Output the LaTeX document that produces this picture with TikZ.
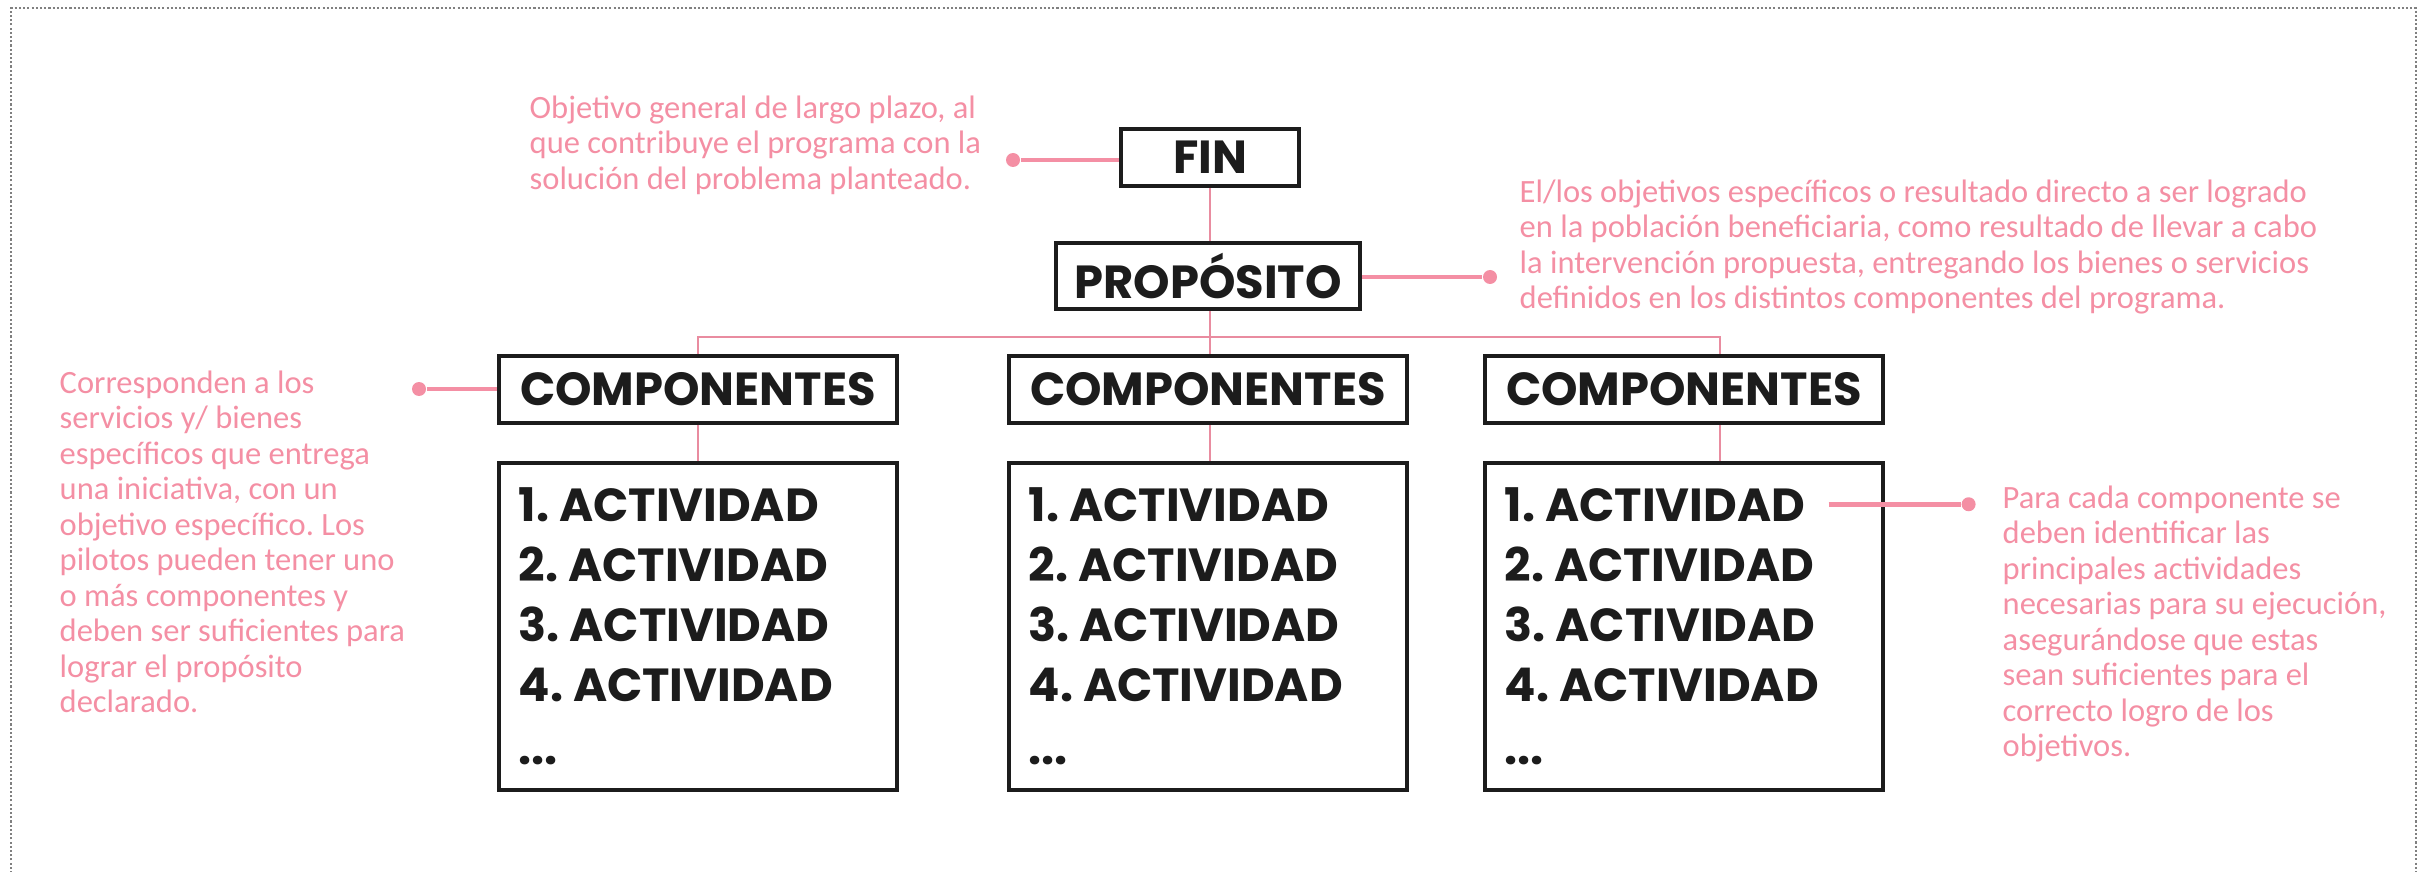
\documentclass[tikz,border=0pt]{standalone}
\usepackage{fontspec}
\setmainfont{Carlito}
\newfontfamily\headfont{Poppins}
\frenchspacing
\definecolor{rosa}{HTML}{F48FA4}
\definecolor{rosaline}{HTML}{E98CA0}
\definecolor{ink}{HTML}{1C1C1C}
\tikzset{
  box/.style={draw=ink, line width=1pt, fill=white, inner sep=0pt, text=ink,
    font=\headfont\bfseries\fontsize{13.2}{16}\selectfont},
  branch/.style={draw=rosaline, line width=0.8pt},
  note/.style={text=rosa, font=\fontsize{9.25}{10.1}\selectfont, align=left, inner sep=0pt, anchor=north west},
  lead/.style={draw=rosa, line width=1.4pt},
  leaddot/.style={circle, fill=rosa, inner sep=0pt, minimum size=0.14cm},
  act/.style={anchor=base west, inner sep=0pt, text=ink, font=\headfont\bfseries\fontsize{13.2}{16}\selectfont}
}
\begin{document}
\begin{tikzpicture}
\useasboundingbox (0,0) rectangle (24.3,-8.72);

% dashed frame
\draw[gray, line width=0.3pt, dash pattern=on 0.6pt off 0.6pt] (0.11,-8.9) |- (24.16,-0.08) -- (24.16,-8.9);

% boxes
\node[box, minimum width=1.78cm, minimum height=0.57cm] (fin) at (12.10,-1.575) {FIN};
\node[box, minimum width=3.04cm, minimum height=0.66cm] (prop) at (12.08,-2.76) {PROPÓSITO};
\foreach \n/\x in {1/6.98, 2/12.08, 3/16.84} {
  \node[box, minimum width=3.98cm, minimum height=0.67cm] (comp\n) at (\x,-3.895) {COMPONENTES};
  \node[box, minimum width=3.98cm, minimum height=3.27cm] (act\n) at (\x,-6.265) {};
  \foreach \i in {1,...,4}
    \node[act] (act\n-\i) at ({\x-1.80},{-5.21-0.6*(\i-1)}) {\i. ACTIVIDAD};
  \node[act] (act\n-5) at ({\x-1.80},-7.64) {...};
}

% tree lines
\coordinate (busL) at (6.98,-3.37);
\coordinate (busR) at (17.20,-3.37);
\draw[branch] (fin.south) -- (fin.south |- prop.north);
\draw[branch] (fin.south |- prop.south) -- (fin.south |- comp2.north);
\draw[branch] (busL |- comp1.north) -- (busL) -- (busR) -- (busR |- comp3.north);
\draw[branch] (comp1.south) -- (act1.north);
\draw[branch] (fin.south |- comp2.south) -- (fin.south |- act2.north);
\draw[branch] (busR |- comp3.south) -- (busR |- act3.north);

% notes
\node[note] (n1) at (5.29,-0.95) {Objetivo general de largo plazo, al\\que contribuye el programa con la\\solución del problema planteado.};
\node[note] (n2) at (15.19,-1.79) {El/los objetivos específicos o resultado directo a ser logrado\\en la población beneficiaria, como resultado de llevar a cabo\\la intervención propuesta, entregando los bienes o servicios\\definidos en los distintos componentes del programa.};
\node[note] (n3) at (0.59,-3.70) {Corresponden a los\\servicios y/ bienes\\específicos que entrega\\una iniciativa, con un\\objetivo específico. Los\\pilotos pueden tener uno\\o más componentes y\\deben ser suficientes para\\lograr el propósito\\declarado.};
\node[note] (n4) at (20.02,-4.85) {Para cada componente se\\deben identificar las\\principales actividades\\necesarias para su ejecución,\\asegurándose que estas\\sean suficientes para el\\correcto logro de los\\objetivos.};

% leaders
\node[leaddot] (d1) at (10.13,-1.60) {};
\draw[lead] (d1) -- (d1 -| fin.west);
\node[leaddot] (d2) at (14.90,-2.77) {};
\draw[lead] (d2 -| prop.east) -- (d2);
\node[leaddot] (d3) at (4.19,-3.89) {};
\draw[lead] (d3) -- (d3 -| comp1.west);
\node[leaddot] (d4) at ([xshift=1.63cm]act3-1.east) {};
\draw[lead] ([xshift=0.23cm]act3-1.east) -- (d4);

\end{tikzpicture}
\end{document}
